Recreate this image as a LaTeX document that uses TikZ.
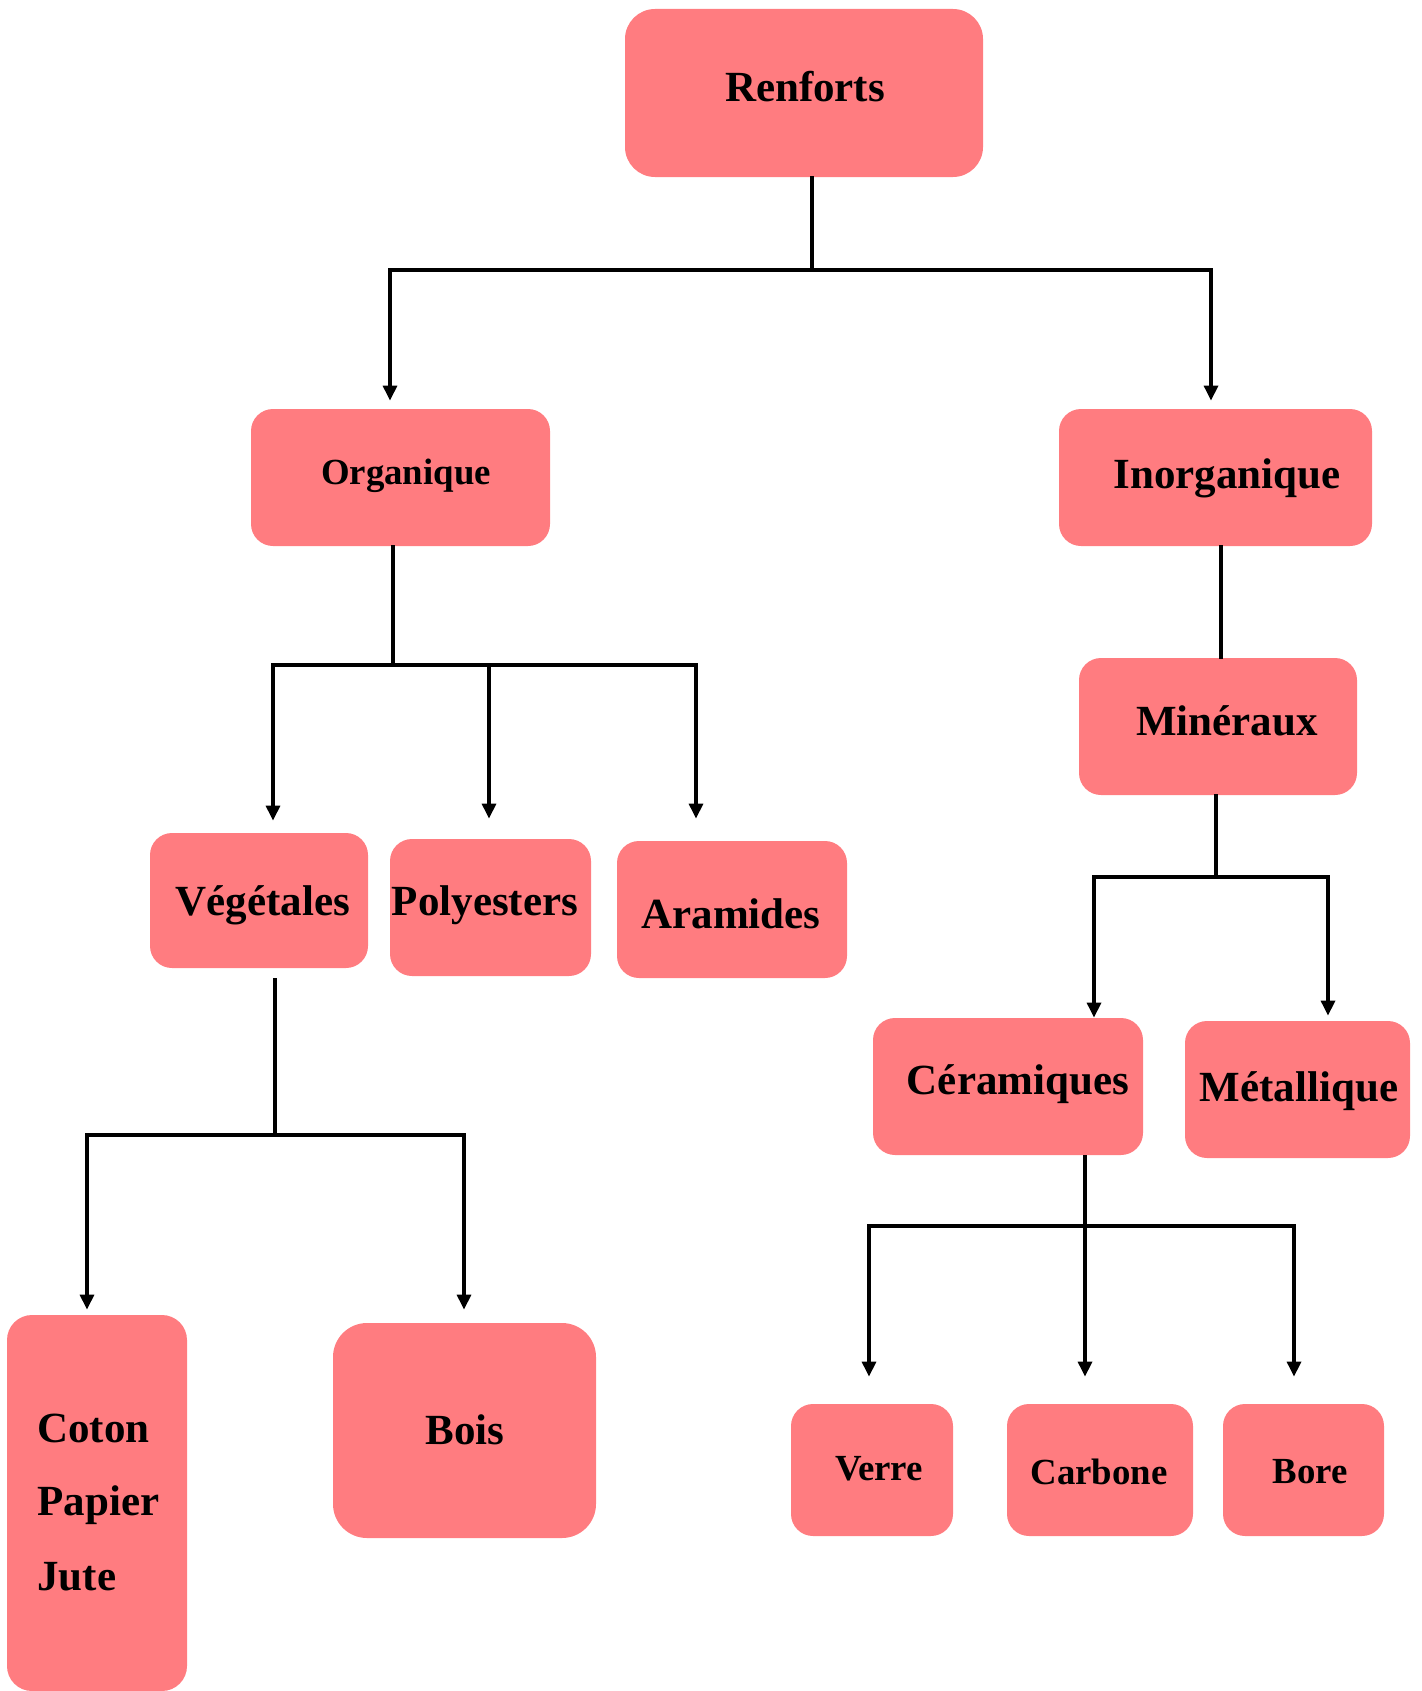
\documentclass[tikz,border=0pt]{standalone}
\usepackage{fontspec}
\setmainfont{Liberation Serif}
\usetikzlibrary{arrows.meta,calc}
\definecolor{boxfill}{HTML}{FF7C80}
\begin{document}
\begin{tikzpicture}[x=0.5pt,y=-0.5pt,
  box/.style={fill=boxfill, draw=none, rounded corners=11pt, inner sep=0pt},
  lbl/.style={font=\bfseries\fontsize{21.5}{25}\selectfont, anchor=base, inner sep=0pt},
  lbls/.style={font=\bfseries\fontsize{18.4}{22}\selectfont, anchor=base, inner sep=0pt},
  link/.style={line width=1.6pt, draw=black, line cap=rect},
  arr/.style={line width=1.6pt, draw=black, -{Triangle[length=7.5pt,width=7pt]}}]
\useasboundingbox (0,0) rectangle (1421,1691);

% boxes
\node[box, rounded corners=15pt, minimum width=179pt, minimum height=84pt] (renforts) at (804,93) {};
\node[box, minimum width=149.5pt, minimum height=68.5pt] (organique) at (400.5,477.5) {};
\node[box, minimum width=156.5pt, minimum height=68.5pt] (inorganique) at (1215.5,477.5) {};
\node[box, minimum width=139pt, minimum height=68.5pt] (mineraux) at (1218,726.5) {};
\node[box, minimum width=109pt, minimum height=67.5pt] (vegetales) at (259,900.5) {};
\node[box, minimum width=100.5pt, minimum height=68.5pt] (polyesters) at (490.5,907.5) {};
\node[box, minimum width=115pt, minimum height=68.5pt] (aramides) at (732,909.5) {};
\node[box, minimum width=135pt, minimum height=68.5pt] (ceramiques) at (1008,1086.5) {};
\node[box, minimum width=112.5pt, minimum height=68.5pt] (metallique) at (1297.5,1089.5) {};
\node[box, rounded corners=12.5pt, minimum width=90pt, minimum height=188pt] (coton) at (97,1503) {};
\node[box, rounded corners=17pt, minimum width=131.5pt, minimum height=107.5pt] (bois) at (464.5,1430.5) {};
\node[box, minimum width=81pt, minimum height=66pt] (verre) at (872,1470) {};
\node[box, minimum width=93pt, minimum height=66pt] (carbone) at (1100,1470) {};
\node[box, minimum width=80.5pt, minimum height=66pt] (bore) at (1303.5,1470) {};

% labels
\node[lbl] (renforts-t) at (805,102) {Renforts};
\node[lbls] (organique-t) at (406,484) {Organique};
\node[lbl] (inorganique-t) at (1227,488) {Inorganique};
\node[lbl] (mineraux-t) at (1227,735) {Minéraux};
\node[lbl] (vegetales-t) at (263,915) {Végétales};
\node[lbl] (polyesters-t) at (485,915) {Polyesters};
\node[lbl] (aramides-t) at (731,928) {Aramides};
\node[lbl] (ceramiques-t) at (1018,1094) {Céramiques};
\node[lbl] (metallique-t) at (1299,1101) {Métallique};
\node[lbl, anchor=base west] (coton-t) at (37,1442) {Coton};
\node[lbl, anchor=base west] (papier-t) at (37,1515) {Papier};
\node[lbl, anchor=base west] (jute-t) at (37,1590) {Jute};
\node[lbl] (bois-t) at (465,1444) {Bois};
\node[lbls] (verre-t) at (879,1480) {Verre};
\node[lbls] (carbone-t) at (1099,1484) {Carbone};
\node[lbls] (bore-t) at (1310,1483) {Bore};

% Renforts
\coordinate (r-j) at (812,270);
\coordinate (r-l) at (390,270);
\coordinate (r-r) at (1211,270);
\draw[link] (renforts.south -| r-j) -- (r-j);
\draw[link] (r-l) -- (r-r);
\draw[arr, shorten >=4pt] (r-l) -- (r-l |- organique.north);
\draw[arr, shorten >=4pt] (r-r) -- (r-r |- inorganique.north);

% Organique
\coordinate (o-j) at (393,665);
\coordinate (o-a) at (273,665);
\coordinate (o-b) at (489,665);
\coordinate (o-c) at (696,665);
\draw[link] (organique.south -| o-j) -- (o-j);
\draw[link] (o-a) -- (o-c);
\draw[arr, shorten >=6pt] (o-a) -- (o-a |- vegetales.north);
\draw[arr, shorten >=10pt] (o-b) -- (o-b |- polyesters.north);
\draw[arr, shorten >=11pt] (o-c) -- (o-c |- aramides.north);

% Inorganique -> Mineraux
\coordinate (i-x) at (1221,600);
\draw[link] (inorganique.south -| i-x) -- (mineraux.north -| i-x);

% Mineraux
\coordinate (m-j) at (1216,877);
\coordinate (m-a) at (1094,877);
\coordinate (m-b) at (1328,877);
\draw[link] (mineraux.south -| m-j) -- (m-j);
\draw[link] (m-a) -- (m-b);
\draw[arr] (m-a) -- (m-a |- ceramiques.north);
\draw[arr, shorten >=2.5pt] (m-b) -- (m-b |- metallique.north);

% Vegetales
\coordinate (v-j) at (275,1135);
\coordinate (v-a) at (87,1135);
\coordinate (v-b) at (464,1135);
\draw[link, shorten <=5.5pt] (vegetales.south -| v-j) -- (v-j);
\draw[link] (v-a) -- (v-b);
\draw[arr, shorten >=2.5pt] (v-a) -- (v-a |- coton.north);
\draw[arr, shorten >=6.5pt] (v-b) -- (v-b |- bois.north);

% Ceramiques
\coordinate (c-j) at (1085,1226);
\coordinate (c-a) at (869,1226);
\coordinate (c-b) at (1294,1226);
\draw[arr, shorten >=13.5pt] (ceramiques.south -| c-j) -- (c-j |- carbone.north);
\draw[link] (c-a) -- (c-b);
\draw[arr, shorten >=13.5pt] (c-a) -- (c-a |- verre.north);
\draw[arr, shorten >=13.5pt] (c-b) -- (c-b |- bore.north);
\end{tikzpicture}
\end{document}
